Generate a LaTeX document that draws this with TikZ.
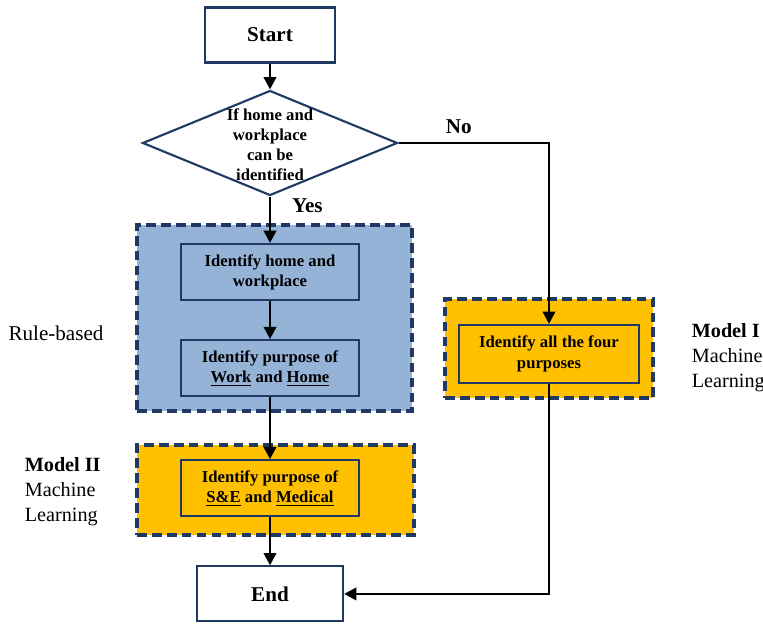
\documentclass[tikz,border=0pt]{standalone}
\usepackage{fontspec}
\setmainfont{Liberation Serif}
\usepackage{tikz}
\usetikzlibrary{positioning,shapes.geometric,arrows.meta}

\definecolor{navy}{HTML}{1F3864}
\definecolor{ruleblue}{HTML}{95B3D7}
\definecolor{mlyellow}{HTML}{FFC000}

\begin{document}
\begin{tikzpicture}[line width=1.1pt]
		\tikzstyle{stepbox}=[draw=navy,line width=1.2pt,align=center,font=\fontsize{9.5}{11.5}\selectfont\bfseries,minimum width=3.56cm,minimum height=1.12cm]
		\tikzstyle{endbox}=[draw=navy,line width=1.2pt,fill=white,font=\fontsize{12}{14}\selectfont\bfseries,minimum height=1.1cm]
		\tikzstyle{group}=[draw=navy,line width=1.8pt,dash pattern=on 5.5pt off 3pt]
		\tikzstyle{side}=[align=left,font=\fontsize{11.5}{14.2}\selectfont]
		\tikzstyle{arr}=[-{Triangle[length=7pt,width=7pt]},line width=1.5pt,black]
		\useasboundingbox (0,0) rectangle (15.26,-12.48);
		% groups
		\node[group, fill=ruleblue, minimum width=5.5cm, minimum height=3.72cm] (rule) at (5.49,-6.36) {};
		\node[group, fill=mlyellow, minimum width=4.16cm, minimum height=1.98cm] (grp1) at (10.98,-6.97) {};
		\node[group, fill=mlyellow, minimum width=5.54cm, minimum height=1.8cm] (grp2) at (5.51,-9.8) {};
		% flow
		\node[endbox, minimum width=2.6cm] (start) at (5.4,-0.7) {Start};
		\node[diamond, draw=navy, line width=1.2pt, fill=white, inner sep=0pt, minimum width=5.1cm, minimum height=2.1cm,
		label={[align=center,yshift=-1pt,font=\fontsize{9.5}{11.5}\selectfont\bfseries]center:If home and\\workplace\\can be\\identified}] (dec) at (5.4,-2.86) {};
		\node[stepbox, below=0.93cm of dec] (home) {Identify home and\\workplace};
		\node[stepbox, below=0.76cm of home] (work) {Identify purpose of\\\underline{Work} and \underline{Home}};
		\node[stepbox, below=1.24cm of work] (med) {Identify purpose of\\\underline{S\&E} and \underline{Medical}};
		\node[stepbox, minimum width=3.6cm, minimum height=1.16cm] (four) at (10.98,-7.08) {Identify all the four\\purposes};
		\node[endbox, minimum width=2.92cm, below=0.96cm of med] (end) {End};
		% labels
		\node[side, font=\fontsize{12}{14}\selectfont] (rb) at (1.12,-6.66) {Rule-based};
		\node[side, anchor=west] (m1) at (13.7,-7.16) {\textbf{Model I}\\Machine\\Learning};
		\node[side, anchor=west] (m2) at (0.36,-9.84) {\textbf{Model II}\\Machine\\Learning};
		% arrows
		\draw[arr] (start) -- (dec);
		\draw[arr] (dec) -- node[pos=0.2, right=3mm, font=\fontsize{12}{14}\selectfont\bfseries] {Yes} (home);
		\draw[arr] (home) -- (work);
		\draw[arr] (work) -- (med);
		\draw[arr] (med) -- (end);
		\draw[arr] (dec.east) -| node[pos=0.2, above=1pt, font=\fontsize{12}{14}\selectfont\bfseries] {No} (four);
		\draw[arr] (four) |- (end);
	\end{tikzpicture}
\end{document}
